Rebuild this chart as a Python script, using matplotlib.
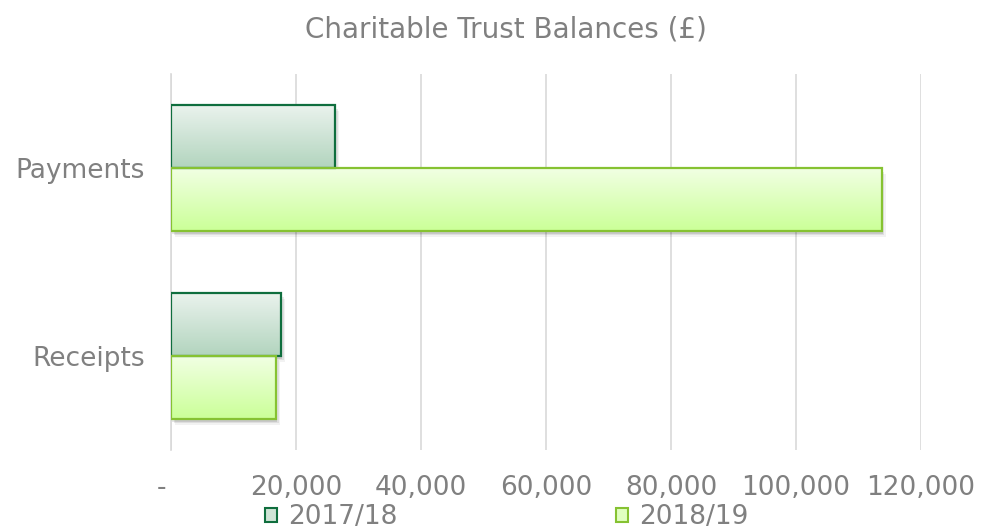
import numpy as np
import matplotlib
matplotlib.use("Agg")
import matplotlib.pyplot as plt
from matplotlib.patches import Patch
from matplotlib.transforms import offset_copy
from matplotlib.ticker import FuncFormatter

# ── データ ──
categories = ["Receipts", "Payments"]
series_names = ["2017/18", "2018/19"]
vals_1718 = [17600, 26200]
vals_1819 = [16800, 113700]
x_ticks = [0, 20000, 40000, 60000, 80000, 100000, 120000]

# 色 (グラデーション上端, 下端, 枠線)
STYLE = {
    "2017/18": ("#EAF3ED", "#B2D4BE", "#0F6E3E"),
    "2018/19": ("#F1FFE3", "#CBFF98", "#86C232"),
}
TEXT_GRAY = "#808080"
GRID_GRAY = "#D9D9D9"


def gradient_bar(ax, y, w, h, top, bottom, edge):
    """グラデーション付きの横棒を1本描く"""
    fig = ax.figure
    # ぼかした影 (数枚重ねる)
    for dx, dy, a in [(1.0, -2.0, 0.10), (2.0, -3.0, 0.08), (3.0, -4.5, 0.05)]:
        tr = offset_copy(ax.transData, fig=fig, x=dx, y=dy, units="points")
        sh = plt.Rectangle((0, y), w, h, transform=tr, facecolor="#000000",
                           alpha=a, edgecolor="none", zorder=2)
        ax.add_patch(sh)
    rect = plt.Rectangle((0, y), w, h, facecolor="none", edgecolor=edge,
                         linewidth=1.6, zorder=4)
    ax.add_patch(rect)
    c1 = np.array(matplotlib.colors.to_rgb(top))
    c2 = np.array(matplotlib.colors.to_rgb(bottom))
    t = np.linspace(0, 1, 64)[:, None]
    grad = (c1 * (1 - t) + c2 * t)[:, None, :]
    im = ax.imshow(grad, extent=[0, w, y, y + h], origin="upper",
                   aspect="auto", zorder=3, interpolation="bilinear")
    im.set_clip_path(rect)


def main():
    plt.rcParams["font.family"] = ["DejaVu Sans"]
    fig = plt.figure(figsize=(9.82, 5.29), dpi=100)
    ax = fig.add_axes([0.1741, 0.1493, 0.7638, 0.7108])

    h = 0.335
    ypos = np.arange(len(categories))
    for i in range(len(categories)):
        t, b, e = STYLE["2017/18"]
        gradient_bar(ax, ypos[i], vals_1718[i], h, t, b, e)
        t, b, e = STYLE["2018/19"]
        gradient_bar(ax, ypos[i] - h, vals_1819[i], h, t, b, e)

    ax.set_xlim(0, 120000)
    ax.set_ylim(-0.5, 1.5)
    ax.set_xticks(x_ticks)
    ax.xaxis.set_major_formatter(FuncFormatter(
        lambda v, p: "" if v == 0 else "{:,.0f}".format(v)))
    ax.set_yticks(ypos)
    ax.set_yticklabels(categories)
    ax.tick_params(axis="both", length=0, labelsize=19, colors=TEXT_GRAY)
    ax.tick_params(axis="x", pad=18)
    ax.tick_params(axis="y", pad=19)

    # ゼロの "-" ラベル
    ax.annotate("-", xy=(0, 0), xycoords=("data", "axes fraction"),
                xytext=(-6.5, -18), textcoords="offset points",
                ha="center", va="top", fontsize=19, color=TEXT_GRAY)

    ax.grid(axis="x", color=GRID_GRAY, linewidth=1.2, zorder=0)
    ax.set_axisbelow(True)
    for s in ["top", "right", "bottom"]:
        ax.spines[s].set_visible(False)
    ax.spines["left"].set_color(GRID_GRAY)
    ax.spines["left"].set_linewidth(1.2)

    fig.text(0.5155, 0.945, "Charitable Trust Balances (£)", ha="center",
             va="center", fontsize=20, color=TEXT_GRAY)

    handles = [Patch(facecolor="#CFE4D6", edgecolor=STYLE["2017/18"][2], linewidth=1.5),
               Patch(facecolor="#E0FFC0", edgecolor=STYLE["2018/19"][2], linewidth=1.5)]
    leg = fig.legend(handles, series_names, loc="center", bbox_to_anchor=(0.516, 0.022),
                     ncol=2, frameon=False, fontsize=19, handlelength=0.45,
                     handleheight=0.45, handletextpad=0.4, columnspacing=8.3,
                     borderpad=0, borderaxespad=0)
    for txt in leg.get_texts():
        txt.set_color(TEXT_GRAY)

    fig.savefig("out.png", dpi=100)


if __name__ == "__main__":
    main()
